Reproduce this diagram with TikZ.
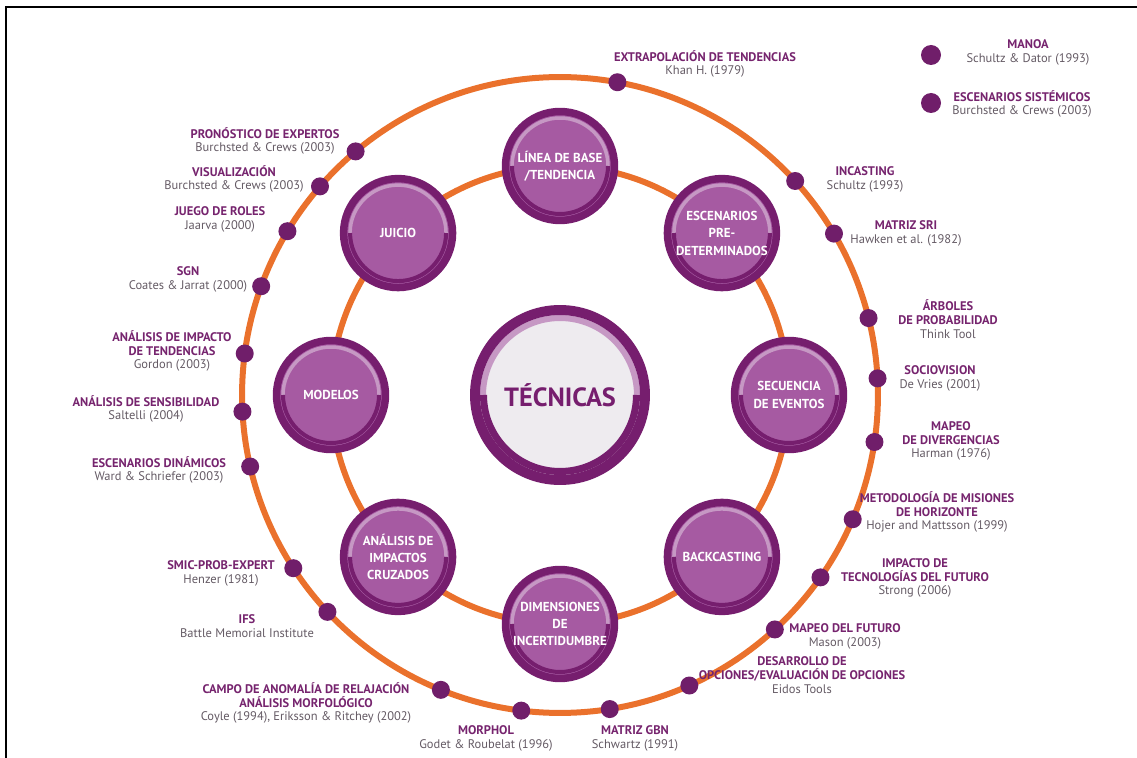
\documentclass[tikz,border=0pt]{standalone}
\usepackage{fontspec}
\setmainfont{PT Sans}
\definecolor{techdark}{RGB}{118,30,110}
\definecolor{techfill}{RGB}{166,90,162}
\definecolor{techlight}{RGB}{198,152,196}
\definecolor{hubfill}{RGB}{238,235,239}
\definecolor{ringorange}{RGB}{234,113,44}
\definecolor{dotpurple}{RGB}{112,30,106}
\definecolor{lblpurple}{RGB}{118,36,110}
\definecolor{citegrey}{RGB}{100,90,100}
\newcommand{\cita}[1]{{\mdseries\color{citegrey}#1}}

\begin{document}
\begin{tikzpicture}[x=0.02cm, y=0.02cm,
    ring/.style={draw=ringorange, line width=0.12cm},
    dot/.style={circle, fill=dotpurple, minimum size=0.36cm, inner sep=0pt},
    lbl/.style={align=center, inner sep=0pt, text=lblpurple, font=\fontsize{7.1}{7.9}\selectfont\bfseries},
    tech/.style={circle, draw=techdark, line width=0.15cm, fill=techfill, minimum size=2.18cm,
        inner sep=0pt, text=white, align=center, font=\fontsize{7.4}{9.9}\selectfont\bfseries,
        path picture={
            \draw[techlight, line width=0.07cm] ([shift={(180:0.96cm)}]path picture bounding box.center) arc[start angle=180, end angle=0, radius=0.96cm];
            \draw[techdark, line width=0.08cm] ([shift={(0:0.96cm)}]path picture bounding box.center) arc[start angle=0, end angle=-180, radius=0.96cm];
        }},
    hub/.style={circle, draw=techdark, line width=0.2cm, fill=hubfill, minimum size=3.4cm,
        inner sep=0pt, text=techdark, font=\fontsize{15}{17}\selectfont\bfseries,
        path picture={
            \draw[techlight, line width=0.12cm] ([shift={(180:1.54cm)}]path picture bounding box.center) arc[start angle=180, end angle=0, radius=1.54cm];
            \draw[techdark, line width=0.14cm] ([shift={(0:1.53cm)}]path picture bounding box.center) arc[start angle=0, end angle=-180, radius=1.53cm];
        }},
]
    \useasboundingbox (0,0) rectangle (1137,758);
    % frame
    \draw[line width=0.04cm] (6,0) -- (6,751) -- (1137,751);

    \coordinate (c) at (560,363);
    % orange rings
    \draw[ring] (c) circle[radius=6.36cm];
    \draw[ring] (c) circle[radius=4.58cm];

    % techniques
    \node[hub] (tecnicas) at (c) {TÉCNICAS};
    \node[tech] (linea) at ([shift={(90:229)}]c) {LÍNEA DE BASE\\/TENDENCIA};
    \node[tech] (predet) at ([shift={(45:229)}]c) {ESCENARIOS\\PRE-\\DETERMINADOS};
    \node[tech] (secuencia) at ([shift={(0:229)}]c) {SECUENCIA\\DE EVENTOS};
    \node[tech] (backcast) at ([shift={(315:229)}]c) {BACKCASTING};
    \node[tech] (dimens) at ([shift={(270:229)}]c) {DIMENSIONES\\DE\\INCERTIDUMBRE};
    \node[tech] (cruzados) at ([shift={(225:229)}]c) {ANÁLISIS DE\\IMPACTOS\\CRUZADOS};
    \node[tech] (modelos) at ([shift={(180:229)}]c) {MODELOS};
    \node[tech] (juicio) at ([shift={(135:229)}]c) {JUICIO};

    % dots on the outer ring
    \foreach \n/\a in {pron/130, visu/139, juego/149, sgn/160, aitend/172.5, asens/183,
        edin/193, smic/213, ifs/223, campo/248, morphol/263, gbn/279, desarrollo/294,
        mapfut/312.5, imptec/325, metod/337, mapdiv/351.5, socio/3, arboles/14,
        sri/30.5, incast/42.3, extrap/79.6}
        \node[dot] (d-\n) at ([shift={(\a:318)}]c) {};

    % labels
    \node[lbl] (pron) at (265,617) {PRONÓSTICO DE EXPERTOS\\\cita{Burchsted \& Crews (2003)}};
    \node[lbl] (visu) at (234,579) {VISUALIZACIÓN\\\cita{Burchsted \& Crews (2003)}};
    \node[lbl] (juego) at (220,539) {JUEGO DE ROLES\\\cita{Jaarva (2000)}};
    \node[lbl] (sgn) at (188,479) {SGN\\\cita{Coates \& Jarrat (2000)}};
    \node[lbl] (aitend) at (172,407) {ANÁLISIS DE IMPACTO\\DE TENDENCIAS\\\cita{Gordon (2003)}};
    \node[lbl] (asens) at (146,349) {ANÁLISIS DE SENSIBILIDAD\\\cita{Saltelli (2004)}};
    \node[lbl] (edin) at (159,288) {ESCENARIOS DINÁMICOS\\\cita{Ward \& Schriefer (2003)}};
    \node[lbl] (smic) at (221,185) {SMIC-PROB-EXPERT\\\cita{Henzer (1981)}};
    \node[lbl] (ifs) at (247,132) {IFS\\\cita{Battle Memorial Institute}};
    \node[lbl] (campo) at (306,55) {CAMPO DE ANOMALÍA DE RELAJACIÓN\\ANÁLISIS MORFOLÓGICO\\\cita{Coyle (1994), Eriksson \& Ritchey (2002)}};
    \node[lbl] (morphol) at (486,20) {MORPHOL\\\cita{Godet \& Roubelat (1996)}};
    \node[lbl] (gbn) at (635,20) {MATRIZ GBN\\\cita{Schwartz (1991)}};
    \node[lbl] (desarrollo) at (802,83) {DESARROLLO DE\\OPCIONES/EVALUACIÓN DE OPCIONES\\\cita{Eidos Tools}};
    \node[lbl] (mapfut) at (845,122) {MAPEO DEL FUTURO\\\cita{Mason (2003)}};
    \node[lbl] (imptec) at (915,180) {IMPACTO DE\\TECNOLOGÍAS DEL FUTURO\\\cita{Strong (2006)}};
    \node[lbl] (metod) at (937,246) {METODOLOGÍA DE MISIONES\\DE HORIZONTE\\\cita{Hojer and Mattsson (1999)}};
    \node[lbl] (mapdiv) at (951,317) {MAPEO\\DE DIVERGENCIAS\\\cita{Harman (1976)}};
    \node[lbl] (socio) at (940,380) {SOCIOVISION\\\cita{De Vries (2001)}};
    \node[lbl] (arboles) at (948,439) {ÁRBOLES\\DE PROBABILIDAD\\\cita{Think Tool}};
    \node[lbl] (sri) at (906,525) {MATRIZ SRI\\\cita{Hawken et al. (1982)}};
    \node[lbl] (incast) at (865,579) {INCASTING\\\cita{Schultz (1993)}};
    \node[lbl] (extrap) at (705,694) {EXTRAPOLACIÓN DE TENDENCIAS\\\cita{Khan H. (1979)}};

    % legend corner
    \node[dot, minimum size=0.4cm] (d-manoa) at (931,703) {};
    \node[lbl] (manoa) at (1028,706) {MANOA\\\cita{Schultz \& Dator (1993)}};
    \node[dot, minimum size=0.4cm] (d-esist) at (931,655) {};
    \node[lbl] (esist) at (1022,654) {ESCENARIOS SISTÉMICOS\\\cita{Burchsted \& Crews (2003)}};
\end{tikzpicture}
\end{document}
